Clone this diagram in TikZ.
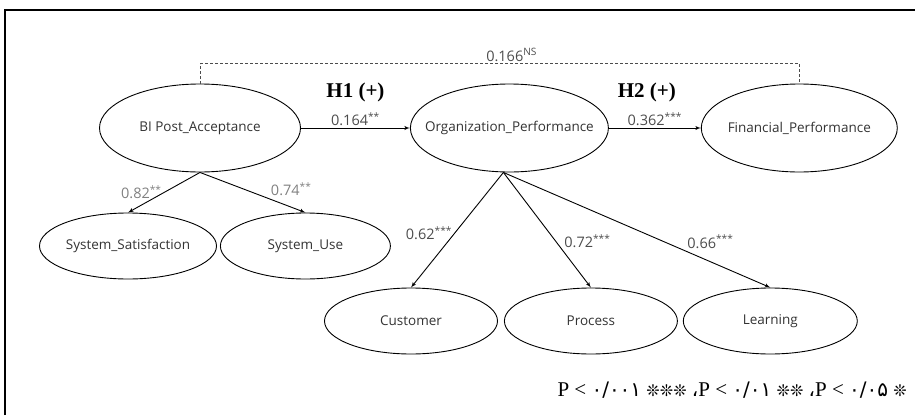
\documentclass[tikz,border=0pt]{standalone}
\usepackage{fontspec}
\setmainfont{Open Sans}
\newfontfamily\hypfont{Liberation Serif}
\newfontfamily\arabicfont{DejaVu Sans}
\newcommand{\fadigits}{\arabicfont\fontsize{20}{22}\selectfont}
\newcommand{\faflower}{\arabicfont\fontsize{16}{18}\selectfont}
\usetikzlibrary{shapes.geometric, arrows, positioning}

\begin{document}
\begin{tikzpicture}[
    x=1pt, y=1pt,
    auto,
    latent/.style={ellipse, draw, line width=0.9pt, inner sep=0pt,
        label={[text=black!80, font=\fontsize{13.5}{15}\selectfont]center:#1}},
    big/.style={latent=#1, minimum width=200pt, minimum height=88pt},
    small/.style={latent=#1, minimum width=174pt, minimum height=66pt},
    line/.style={draw, line width=0.9pt, -latex'},
    coef/.style={font=\fontsize{14.5}{16}\selectfont, text=black!70, inner sep=2pt},
    hyp/.style={font=\hypfont\bfseries\fontsize{21}{23}\selectfont, inner sep=1pt}
]
\useasboundingbox (0,0) rectangle (915,-415);

% Frame (only top and left edges show)
\draw [line width=2pt] (5,-415) |- (915,-10);

% Place the nodes
\node [big={BI Post\_Acceptance}, minimum width=201pt] (bi) at (200,-128) {};
\node [big={Organization\_Performance}, minimum width=198pt, right=109pt of bi] (org) {};
\node [big={Financial\_Performance}, minimum width=196pt, right=92pt of org] (fin) {};
\node [small={System\_Satisfaction}, minimum width=177pt] (sat) at (128,-246) {};
\node [small={System\_Use}, minimum width=170pt, right=3pt of sat] (use) {};
\node [small=Customer, minimum width=173pt] (cust) at (411,-321) {};
\node [small=Process, minimum width=173pt, right=6pt of cust] (proc) {};
\node [small=Learning, right=5pt of proc] (learn) {};

% Draw the lines (arrows)
\path [line] (bi) -- node [coef, above] (c1) {0.164\textsuperscript{**}} (org);
\node [hyp, above=7pt of c1] (h1) {H1 (+)};
\path [line] (org) -- node [coef, above] (c2) {0.362\textsuperscript{***}} (fin);
\node [hyp, above=7pt of c2, xshift=-8pt] (h2) {H2 (+)};

\path [line] (bi.south) -- node [coef, text=black!50, left, pos=0.5] {0.82\textsuperscript{**}} (sat.north);
\path [line] (bi.south) -- node [coef, text=black!50, above right, pos=0.65] {0.74\textsuperscript{**}} (use.north);

\path [line] ([xshift=-6pt]org.south) -- node [coef, left, pos=0.53] {0.62\textsuperscript{***}} (cust.north);
\path [line] ([xshift=-6pt]org.south) -- node [coef, right=6pt, pos=0.6] {0.72\textsuperscript{***}} (proc.north);
\path [line] ([xshift=-6pt]org.south) -- node [coef, above right, pos=0.68] {0.66\textsuperscript{***}} (learn.north);

% Direct path, not significant
\draw [black!70, line width=0.6pt, dash pattern=on 3pt off 2pt] (bi.north) -- ++(0,20)
    -| node [coef, above, pos=0.26] {0.166\textsuperscript{NS}} (fin.north);

% Significance levels
\node [anchor=east, inner sep=0pt, font=\hypfont\fontsize{21}{23}\selectfont] (note) at (907,-390)
    {P < {\fadigits ۰/۰۰۱} {\faflower ❊❊❊} {\fadigits ،}P < {\fadigits ۰/۰۱} {\faflower ❊❊} {\fadigits ،}P < {\fadigits ۰/۰۵} {\faflower ❊}};

\end{tikzpicture}
\end{document}
